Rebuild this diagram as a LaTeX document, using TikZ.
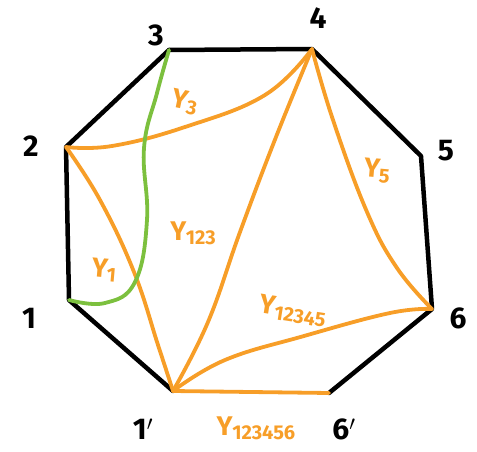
\documentclass[tikz,border=0pt]{standalone}
\usepackage{fontspec}
\setmainfont{Fira Sans}
\definecolor{ora}{RGB}{247,158,40}
\definecolor{grn}{RGB}{124,192,62}
\newcommand\yy[1]{Y\kern-0.5pt\raisebox{-0.3ex}{\fontsize{20}{20}\selectfont #1}}
\tikzset{
  edge/.style={line width=4.5pt,line cap=round,line join=round,black},
  oedge/.style={line width=3.8pt,line cap=round,line join=round,ora},
  gedge/.style={line width=3.8pt,line cap=round,line join=round,grn},
  vlab/.style={font=\fontsize{30}{30}\selectfont\bfseries,inner sep=0pt},
  ylab/.style={font=\fontsize{27}{27}\selectfont\bfseries,text=ora,inner sep=0pt}
}
\begin{document}
\begin{tikzpicture}[x=1pt,y=-1pt]
\useasboundingbox (0,0) rectangle (477,452);
% vertices
\coordinate (v3) at (169,50);
\coordinate (v4) at (312,49);
\coordinate (v5) at (421,156);
\coordinate (v6) at (432,309);
\coordinate (v6p) at (329,393);
\coordinate (v1p) at (173,391);
\coordinate (v1) at (69,300);
\coordinate (v2) at (66,147);
% black polygon
\draw[edge] (v3) -- (v4) -- (v5) -- (v6) -- (v6p);
\draw[edge] (v1p) -- (v1) -- (v2) -- (v3);
% orange chords
\draw[oedge] plot[smooth,tension=0.7] coordinates {(v2) (112,146) (185,127) (265,95) (v4)};
\draw[oedge] plot[smooth,tension=0.7] coordinates {(v2) (100,200) (134,272) (158,345) (v1p)};
\draw[oedge] plot[smooth,tension=0.7] coordinates {(v4) (276,137) (240,232) (208,322) (v1p)};
\draw[oedge] plot[smooth,tension=0.7] coordinates {(v4) (333,120) (367,212) (397,268) (v6)};
\draw[oedge] plot[smooth,tension=0.7] coordinates {(v1p) (225,360) (304,336) (390,313) (v6)};
\draw[oedge] (v1p) -- (v6p);
% green curve
\draw[gedge] plot[smooth,tension=0.7] coordinates {(v3) (157,93) (144,148) (147,220) (135,282) (105,303) (v1)};
% vertex labels
\node[vlab] (l3) at (156,35) {3};
\node[vlab] (l4) at (318,18) {4};
\node[vlab] (l5) at (446,151) {5};
\node[vlab] (l6) at (458,318) {6};
\node[vlab] (l6p) at (344,429) {6$'$};
\node[vlab] (l1p) at (143,429) {1$'$};
\node[vlab] (l1) at (29,318) {1};
\node[vlab] (l2) at (31,146) {2};
% orange labels
\node[ylab,rotate=-12] (y3) at (185,102) {\yy{3}};
\node[ylab,rotate=-5] (y5) at (377,171) {\yy{5}};
\node[ylab,rotate=-5] (y1) at (104,270) {\yy{1}};
\node[ylab] (y123) at (193,233) {\yy{123}};
\node[ylab,rotate=-9] (y12345) at (293,311) {\yy{12345}};
\node[ylab] (y123456) at (256,428) {\yy{123456}};
\end{tikzpicture}
\end{document}
